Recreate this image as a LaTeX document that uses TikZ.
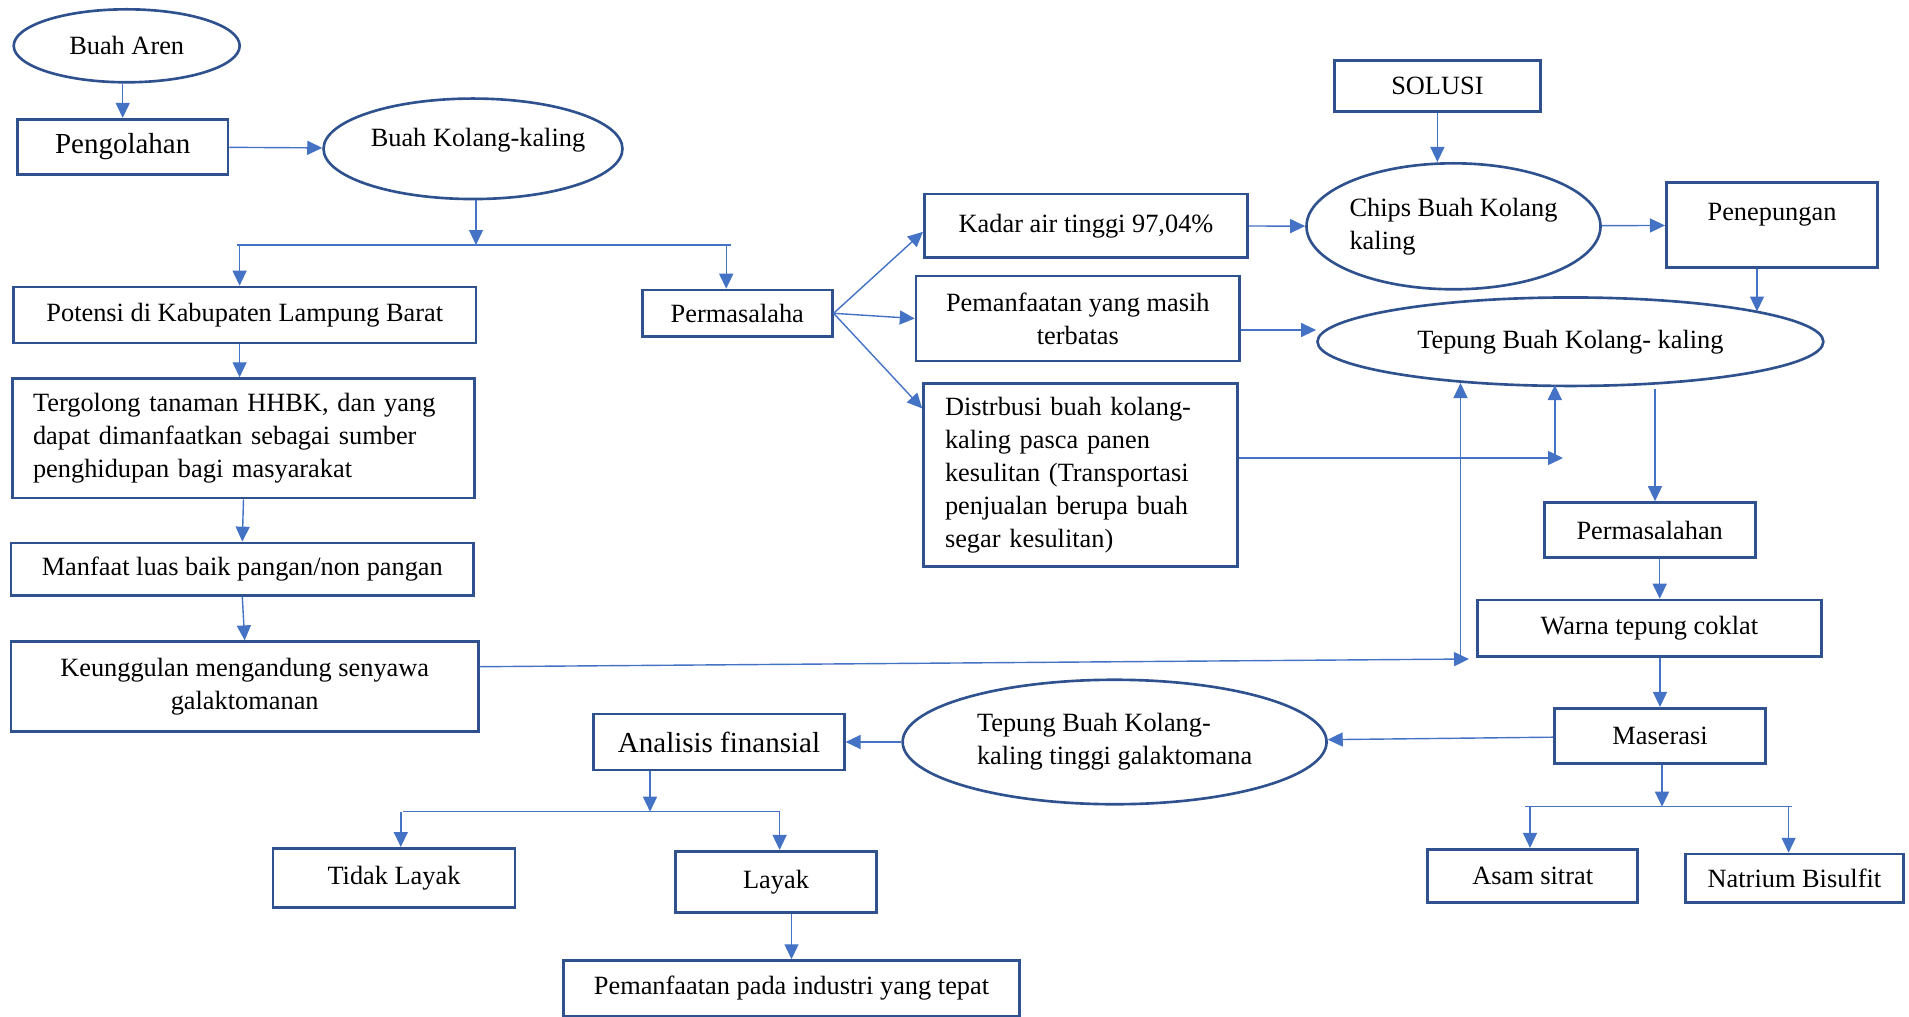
\documentclass[tikz,border=0pt]{standalone}
\usepackage{fontspec}
\setmainfont{Liberation Serif}
\usetikzlibrary{shapes.geometric,arrows.meta}
\definecolor{boxblue}{HTML}{2F528F}
\definecolor{linkblue}{HTML}{4472C4}
\newcommand\fsz{\fontsize{15}{18.8}\selectfont}
\newcommand\fbig{\fontsize{16.5}{20}\selectfont}

\begin{document}
\begin{tikzpicture}[x=0.02cm,y=-0.02cm,
    box/.style={draw=boxblue, line width=1.5pt, rectangle, font=\fsz, align=center},
    oval/.style={draw=boxblue, line width=1.5pt, ellipse, inner sep=0pt, font=\fsz, align=center},
    arr/.style={draw=linkblue, line width=0.8pt, -{Triangle[length=0.3cm,width=0.28cm]}},
    bar/.style={draw=linkblue, line width=0.8pt}]
    \useasboundingbox (0,0) rectangle (1909,1017);
    % left column
    \node[oval, minimum width=4.52cm, minimum height=1.46cm] (aren) at (126.7,45.8) {Buah Aren};
    \node[box, minimum width=4.21cm, minimum height=1.10cm, font=\fbig] (olah) at (122.7,146.7) {Pengolahan};
    \node[oval, minimum width=5.98cm, minimum height=2.01cm,
        label={[font=\fsz, xshift=0.1cm, yshift=0.18cm]center:Buah Kolang-kaling}] (kolang) at (473,148.8) {};
    \node[box, minimum width=9.25cm, minimum height=1.12cm] (potensi) at (244.8,315) {Potensi di Kabupaten Lampung Barat};
    \node[box, minimum width=9.25cm, minimum height=2.39cm, text width=8.42cm, align=left] (tergolong) at (243.5,438.3)
        {Tergolong tanaman HHBK, dan yang\\dapat dimanfaatkan sebagai sumber\\penghidupan bagi masyarakat};
    \node[box, minimum width=9.25cm, minimum height=1.05cm] (manfaat) at (242.3,569.2) {Manfaat luas baik pangan/non pangan};
    \node[box, minimum width=9.35cm, minimum height=1.80cm] (keung) at (244.7,686.7) {Keunggulan mengandung senyawa\\galaktomanan};
    % middle
    \node[box, minimum width=3.80cm, minimum height=0.93cm] (masalah1) at (737.3,313.3) {Permasalaha};
    \node[box, minimum width=6.47cm, minimum height=1.27cm] (kadar) at (1086,225.8) {Kadar air tinggi 97,04\%};
    \node[box, minimum width=6.47cm, minimum height=1.70cm] (pemanf) at (1077.8,318.5) {Pemanfaatan yang masih\\terbatas};
    \node[box, minimum width=6.28cm, minimum height=3.67cm, text width=5.42cm, align=left] (distr) at (1080.5,475)
        {Distrbusi buah kolang-\\kaling pasca panen\\kesulitan (Transportasi\\penjualan berupa buah\\segar kesulitan)};
    % right
    \node[box, minimum width=4.13cm, minimum height=1.02cm] (solusi) at (1437.4,86.2) {SOLUSI};
    \node[oval, minimum width=5.74cm, minimum height=2.52cm, align=left] (chips) at (1453.5,226.3) {Chips Buah Kolang\\kaling};
    \node[box, minimum width=4.23cm, minimum height=1.69cm,
        label={[font=\fsz, yshift=0.2cm]center:Penepungan}] (penep) at (1772,225) {};
    \node[oval, minimum width=10.12cm, minimum height=1.77cm] (tepung) at (1570.4,341.7) {Tepung Buah Kolang- kaling};
    \node[box, minimum width=4.22cm, minimum height=1.10cm] (masalah2) at (1649.7,530) {Permasalahan};
    \node[box, minimum width=6.88cm, minimum height=1.13cm] (warna) at (1649.4,628.3) {Warna tepung coklat};
    \node[box, minimum width=4.22cm, minimum height=1.11cm] (maserasi) at (1660,736) {Maserasi};
    \node[box, minimum width=4.20cm, minimum height=1.07cm] (asam) at (1532.7,876) {Asam sitrat};
    \node[box, minimum width=4.37cm, minimum height=0.97cm] (natrium) at (1794.4,878.3) {Natrium Bisulfit};
    % bottom
    \node[oval, minimum width=8.48cm, minimum height=2.49cm, align=left] (tinggi) at (1114.6,742) {Tepung Buah Kolang-\\kaling tinggi galaktomana};
    \node[box, minimum width=5.01cm, minimum height=1.12cm, font=\fbig] (analisis) at (719,742) {Analisis finansial};
    \node[box, minimum width=4.84cm, minimum height=1.18cm] (tidak) at (394,877.8) {Tidak Layak};
    \node[box, minimum width=4.01cm, minimum height=1.23cm] (layak) at (776,882) {Layak};
    \node[box, minimum width=9.12cm, minimum height=1.11cm] (industri) at (791.5,988.3) {Pemanfaatan pada industri yang tepat};

    % junctions
    \coordinate (split1) at (476,245);
    \coordinate (b1l) at (239.6,245);
    \coordinate (b1r) at (726.2,245);
    \coordinate (kend) at (1469,659);
    \coordinate (kj) at (1460.5,659);
    \coordinate (tepA) at (1460.5,383);
    \coordinate (dend) at (1563,458);
    \coordinate (dj) at (1554.8,458);
    \coordinate (tepB) at (1554.8,385);
    \coordinate (tepC) at (1757,311.5);
    \coordinate (tepD) at (1655,389);
    \coordinate (split2) at (1662,806.7);
    \coordinate (b2l) at (1530,806.7);
    \coordinate (b2r) at (1788.6,806.7);
    \coordinate (split3) at (650,811.7);
    \coordinate (b3l) at (400.8,811.7);
    \coordinate (b3r) at (779.6,811.7);

    % connectors
    \draw[arr] (aren.south -| olah.north) -- (olah.north);
    \draw[arr] (olah) -- (kolang);
    \draw[arr] (kolang.south -| split1) -- (split1);
    \draw[bar] ([xshift=-0.05cm]b1l) -- ([xshift=0.09cm]b1r);
    \draw[arr] (b1l) -- (b1l |- potensi.north);
    \draw[arr] (b1r) -- (b1r |- masalah1.north);
    \draw[arr] (potensi.south -| b1l) -- (b1l |- tergolong.north);
    \draw[arr] (tergolong.south) -- (manfaat.north);
    \draw[arr] (manfaat.south) -- (keung.north);
    \draw[arr] ([yshift=0.4cm]keung.east) -- (kend);
    \draw[arr] (kj) -- (tepA);

    \draw[arr] (masalah1.east) -- ([yshift=-0.12cm]kadar.west);
    \draw[arr] (masalah1.east) -- (pemanf.west);
    \draw[arr] (masalah1.east) -- ([yshift=-0.53cm]distr.north west);
    \draw[arr] (kadar) -- (chips);
    \draw[arr] ([yshift=-0.23cm]pemanf.east) -- ([yshift=-0.23cm]pemanf.east -| tepung.west);
    \draw[arr] (distr.east |- dend) -- (dend);
    \draw[arr] (dj) -- (tepB);

    \draw[arr] (solusi.south) -- (solusi.south |- chips.north);
    \draw[arr] (chips) -- (penep);
    \draw[arr] (penep.south -| tepC) -- (tepC);
    \draw[arr] (tepD) -- (tepD |- masalah2.north);
    \draw[arr] ([xshift=0.2cm]masalah2.south) -- ([xshift=0.2cm]masalah2.south |- warna.north);
    \draw[arr] (warna.south -| maserasi.north) -- (maserasi.north);
    \draw[arr] (maserasi.south -| split2) -- (split2);
    \draw[bar] ([xshift=-0.1cm]b2l) -- ([xshift=0.06cm]b2r);
    \draw[arr] (b2l) -- (b2l |- asam.north);
    \draw[arr] (b2r) -- (b2r |- natrium.north);

    \draw[arr] (maserasi) -- (tinggi);
    \draw[arr] (tinggi) -- (analisis);
    \draw[arr] (analisis.south -| split3) -- (split3);
    \draw[bar] ([xshift=0.04cm]b3l) -- (b3r);
    \draw[arr] (b3l) -- (b3l |- tidak.north);
    \draw[arr] (b3r) -- (b3r |- layak.north);
    \draw[arr] (layak.south -| industri.north) -- (industri.north);
\end{tikzpicture}
\end{document}
